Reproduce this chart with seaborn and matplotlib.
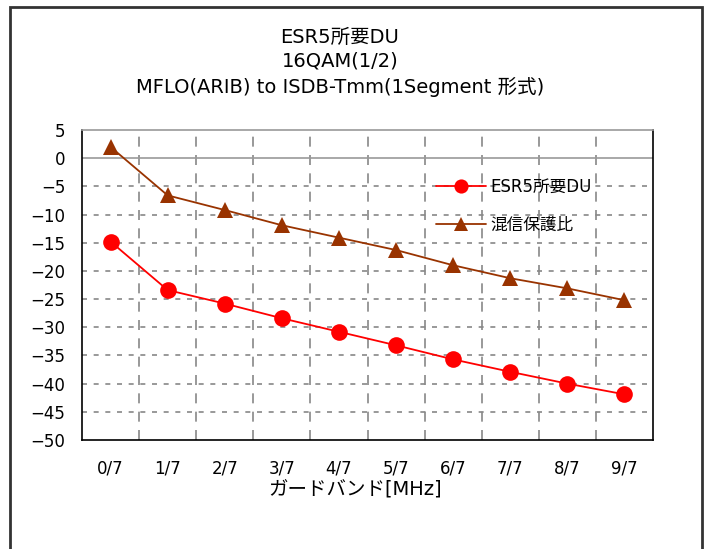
import matplotlib
matplotlib.use("Agg")
import matplotlib.pyplot as plt
import numpy as np
import pandas as pd
import seaborn as sns
from matplotlib.patches import Rectangle

# data
bands = ['0/7', '1/7', '2/7', '3/7', '4/7', '5/7', '6/7', '7/7', '8/7', '9/7']
esr5_du = [-14.8, -23.4, -25.8, -28.4, -30.8, -33.2, -35.7, -37.9, -40.0, -41.9]
protect = [2.0, -6.6, -9.2, -11.9, -14.1, -16.3, -19.0, -21.3, -23.1, -25.2]
y_ticks = list(range(-50, 10, 5))

sns.set_style("white")
plt.rcParams['font.family'] = ['DejaVu Sans', 'Noto Sans CJK JP']
plt.rcParams['text.color'] = 'black'
plt.rcParams['xtick.color'] = 'black'
plt.rcParams['ytick.color'] = 'black'

pos = np.arange(len(bands))
df = pd.DataFrame({'pos': np.concatenate([pos, pos]),
                   'val': esr5_du + protect,
                   'series': ['ESR5所要DU'] * len(bands) + ['混信保護比'] * len(bands)})

fig = plt.figure(figsize=(7.09, 5.49), dpi=100)
ax = fig.add_axes([82/709, 1 - 440/549, (653 - 82)/709, (440 - 130)/549])

# outer chart frame
fig.patches.append(Rectangle((10/709, -0.05), 692/709, 1.05 - 7/549,
                             transform=fig.transFigure, fill=False,
                             edgecolor='#333333', linewidth=2))

sns.lineplot(data=df, x='pos', y='val', hue='series', style='series',
             palette={'ESR5所要DU': '#FF0000', '混信保護比': '#993300'},
             markers={'ESR5所要DU': 'o', '混信保護比': '^'},
             dashes=False, markersize=12, markeredgewidth=0, linewidth=1.3,
             ax=ax)

ax.set_xlim(-0.5, len(bands) - 0.5)
ax.set_ylim(-50, 5)
ax.set_yticks(y_ticks)
ax.set_yticklabels([str(v).replace('-', '−') for v in y_ticks])
ax.set_xticks(pos)
ax.set_xticklabels(bands)
ax.set_xticks(pos[:-1] + 0.5, minor=True)
ax.tick_params(axis='both', which='both', length=0, labelsize=12, labelcolor='black')
ax.tick_params(axis='y', pad=12)
ax.tick_params(axis='x', pad=14)

ax.grid(False)
for v in y_ticks[1:-1]:
    if v == 0:
        ax.axhline(v, color='#999999', linewidth=1.2, zorder=1)
    else:
        ax.axhline(v, color='#888888', linewidth=1.2, linestyle=(0, (3, 4)), zorder=1)
ax.grid(True, which='minor', axis='x', color='#888888', linewidth=1.2, linestyle=(0, (6, 5)))

for s in ['left', 'right', 'bottom']:
    ax.spines[s].set_color('black')
    ax.spines[s].set_linewidth(1.2)
ax.spines['top'].set_color('#999999')
ax.spines['top'].set_linewidth(1.2)

ax.set_xlabel('')
ax.set_ylabel('')
leg = ax.legend(loc='upper left', bbox_to_anchor=(0.593, 0.893), frameon=False,
                fontsize=12, handlelength=3.0, handletextpad=0.3,
                labelspacing=1.15, markerscale=0.85)
for t in leg.get_texts():
    t.set_color('black')

fig.text(340/709, 1 - 37/549, 'ESR5所要DU', ha='center', va='center', fontsize=14)
fig.text(340/709, 1 - 61/549, '16QAM(1/2)', ha='center', va='center', fontsize=14)
fig.text(340/709, 1 - 87/549, 'MFLO(ARIB) to ISDB-Tmm(1Segment 形式)', ha='center', va='center', fontsize=14)
fig.text(355/709, 1 - 490/549, 'ガードバンド[MHz]', ha='center', va='center', fontsize=14)

fig.savefig('out.png', dpi=100)
